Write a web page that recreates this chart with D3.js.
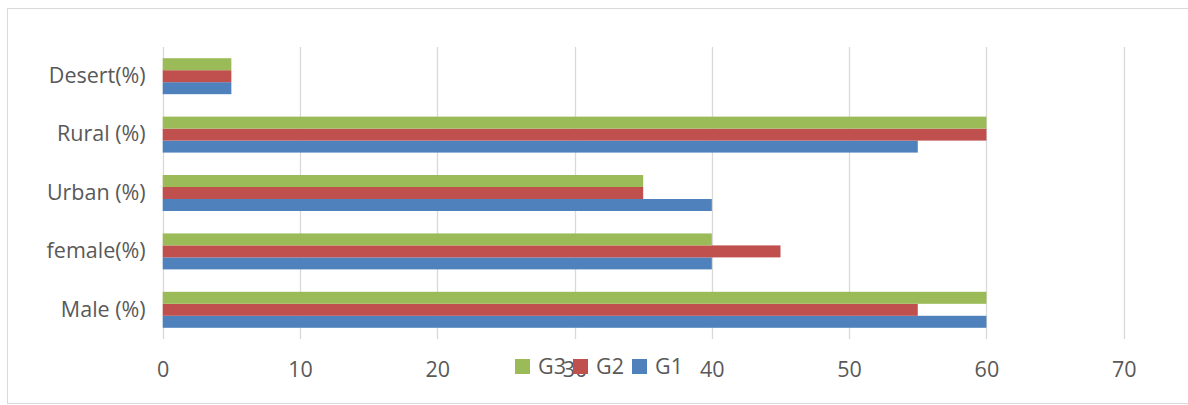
<!DOCTYPE html>
<html><head><meta charset="utf-8">
<script src="https://cdn.jsdelivr.net/npm/d3@7"></script>
<style>body{margin:0;background:#fff}svg{display:block}</style>
</head><body><svg id="c" width="1188" height="405"></svg>
<script>
const categories = ["Male (%)", "female(%)", "Urban (%)", "Rural (%)", "Desert(%)"];
const seriesNames = ["G1", "G2", "G3"];
const G1 = [60, 40, 40, 55, 5];
const G2 = [55, 45, 35, 60, 5];
const G3 = [60, 40, 35, 60, 5];
const xTicks = [0, 10, 20, 30, 40, 50, 60, 70];
const colors = {G1: "#4F81BD", G2: "#C0504D", G3: "#9BBB59"};
const values = {G1, G2, G3};

(function () {
const svg = d3.select("#c");
const font = "'Open Sans', sans-serif";
const textColor = "#595959";

svg.append("rect").attr("x", 7.5).attr("y", 8.5).attr("width", 1190).attr("height", 395)
  .attr("fill", "#fff").attr("stroke", "#D9D9D9").attr("stroke-width", 1);

const pLeft = 162.7, pRight = 1123.7, pTop = 47, pBottom = 339;
const x = d3.scaleLinear().domain([0, 70]).range([pLeft, pRight]);
const y = d3.scaleBand().domain(categories).range([pBottom, pTop]).paddingInner(0.384).paddingOuter(0.192);
const ySub = d3.scaleBand().domain(["G3", "G2", "G1"]).range([0, y.bandwidth()]);

// gridlines
svg.append("g").selectAll("line").data(xTicks).join("line")
  .attr("x1", d => Math.round(x(d)) + 0.5).attr("x2", d => Math.round(x(d)) + 0.5)
  .attr("y1", pTop).attr("y2", pBottom)
  .attr("stroke", "#D9D9D9").attr("stroke-width", 1.3);

// bars
seriesNames.forEach(s => {
  svg.append("g").selectAll("rect").data(categories).join("rect")
    .attr("x", x(0))
    .attr("y", c => y(c) + ySub(s))
    .attr("width", (c, i) => x(values[s][i]) - x(0))
    .attr("height", ySub.bandwidth())
    .attr("fill", colors[s]);
});

// x axis labels
const xAxis = d3.axisBottom(x).tickValues(xTicks).tickSize(0).tickPadding(0);
const gx = svg.append("g").attr("transform", `translate(0,${pBottom})`).call(xAxis);
gx.select(".domain").remove();
gx.selectAll("text").attr("y", 30).attr("dy", "0.35em")
  .attr("font-family", font).attr("font-size", 21.5).attr("fill", textColor);

// y axis labels
const yAxis = d3.axisLeft(y).tickSize(0).tickPadding(17);
const gy = svg.append("g").attr("transform", `translate(${pLeft},0)`).call(yAxis);
gy.select(".domain").remove();
gy.selectAll("text").attr("font-family", font).attr("font-size", 21.5).attr("fill", textColor);

// legend
const legendItems = ["G3", "G2", "G1"];
const lg = svg.append("g");
const lx = [515, 573, 632];
legendItems.forEach((s, i) => {
  const g = lg.append("g").attr("transform", `translate(${lx[i]},359)`);
  g.append("rect").attr("width", 15).attr("height", 15).attr("fill", colors[s]);
  g.append("text").attr("x", 23).attr("y", 7.5).attr("dy", "0.35em")
    .attr("font-family", font).attr("font-size", 21.5).attr("fill", textColor).text(s);
});
})();
</script></body></html>
